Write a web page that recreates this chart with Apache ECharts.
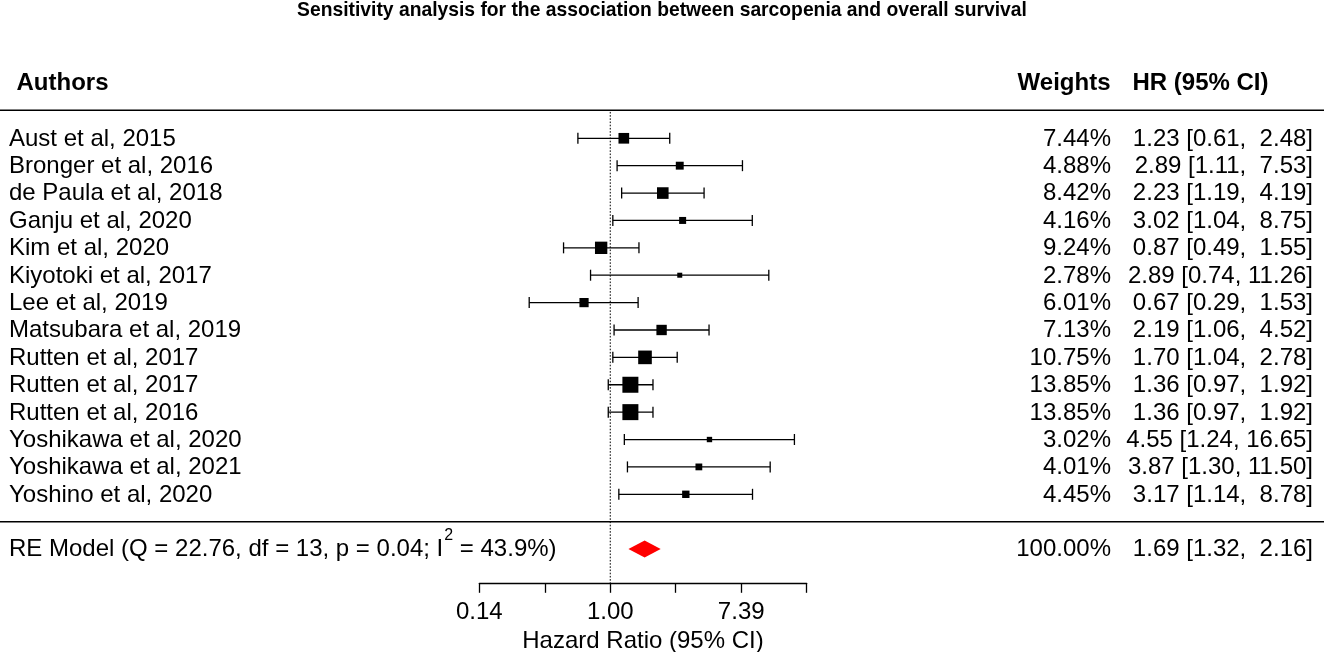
<!DOCTYPE html>
<html><head><meta charset="utf-8">
<script src="https://cdn.jsdelivr.net/npm/echarts@6/dist/echarts.min.js"></script>
<style>html,body{margin:0;padding:0;background:#fff}#c{width:1324px;height:652px}</style>
</head><body><div id="c"></div>
<script>
// ---- data ----
const titleText = 'Sensitivity analysis for the association between sarcopenia and overall survival';
const authors = ['Aust et al, 2015','Bronger et al, 2016','de Paula et al, 2018','Ganju et al, 2020','Kim et al, 2020','Kiyotoki et al, 2017','Lee et al, 2019','Matsubara et al, 2019','Rutten et al, 2017','Rutten et al, 2017','Rutten et al, 2016','Yoshikawa et al, 2020','Yoshikawa et al, 2021','Yoshino et al, 2020'];
const hr     = [1.23, 2.89, 2.23, 3.02, 0.87, 2.89, 0.67, 2.19, 1.70, 1.36, 1.36, 4.55, 3.87, 3.17];
const lower  = [0.61, 1.11, 1.19, 1.04, 0.49, 0.74, 0.29, 1.06, 1.04, 0.97, 0.97, 1.24, 1.30, 1.14];
const upper  = [2.48, 7.53, 4.19, 8.75, 1.55, 11.26, 1.53, 4.52, 2.78, 1.92, 1.92, 16.65, 11.50, 8.78];
const weights = [7.44, 4.88, 8.42, 4.16, 9.24, 2.78, 6.01, 7.13, 10.75, 13.85, 13.85, 3.02, 4.01, 4.45];
const pooled = [1.69, 1.32, 2.16];      // HR, lower, upper
const pooledWeight = 100.00;
const modelStats = {Q: '22.76', df: '13', p: '0.04', I2: '43.9'};
const headers = ['Authors', 'Weights', 'HR (95% CI)'];
const axisTitle = 'Hazard Ratio (95% CI)';
const tickLabels = {'-2': '0.14', '0': '1.00', '2': '7.39'};   // log-scale tick labels

// ---- helpers ----
const FONT = "'Liberation Sans', Arial, sans-serif";
const f2 = v => v.toFixed(2);
const pad = (s, n) => (' '.repeat(Math.max(0, n - s.length))) + s;
const ciText = (e, l, u) => f2(e) + ' [' + f2(l) + ', ' + pad(f2(u), 5) + ']';
const sqMin = Math.sqrt(Math.min(...weights)), sqMax = Math.sqrt(Math.max(...weights));
const sizeFor = w => 5 + (Math.sqrt(w) - sqMin) / (sqMax - sqMin) * 11;

const nStudies = authors.length;
const sepRow = nStudies + 1;        // separator line
const poolRow = nStudies + 2;       // RE model row
const yMax = 17.25;

const studyData = authors.map((a, i) => [i + 1, Math.log(hr[i]), Math.log(lower[i]), Math.log(upper[i]), weights[i]]);
const poolData = [[poolRow, Math.log(pooled[0]), Math.log(pooled[1]), Math.log(pooled[2]), pooledWeight]];

const txt = (text, x, y, align, extra) => ({
  type: 'text',
  style: Object.assign({text, x, y, align, verticalAlign: 'middle', fill: '#000', fontSize: 24, fontFamily: FONT}, extra || {})
});

const chart = echarts.init(document.getElementById('c'), null, {renderer: 'canvas'});
chart.setOption({
  backgroundColor: '#fff',
  animation: false,
  title: {
    text: titleText, left: 'center', top: 1, padding: 0,
    textStyle: {fontSize: 19.3, fontWeight: 'bold', color: '#000', fontFamily: FONT}
  },
  grid: {left: 479.3, right: 517.3, top: 110.9, bottom: 68.7, containLabel: false, outerBoundsMode: 'none'},
  xAxis: {
    type: 'value', min: -2, max: 3, interval: 1,
    axisLine: {show: true, onZero: false, lineStyle: {color: '#000', width: 1.3}},
    axisTick: {show: true, length: 9.5, lineStyle: {color: '#000', width: 1.3}},
    splitLine: {show: false},
    axisLabel: {
      color: '#000', fontSize: 24, fontFamily: FONT, margin: 17,
      formatter: v => tickLabels[String(Math.round(v))] || ''
    },
    name: axisTitle, nameLocation: 'middle', nameGap: 45,
    nameTextStyle: {color: '#000', fontSize: 24, fontFamily: FONT}
  },
  yAxis: {type: 'value', min: 0, max: yMax, inverse: true, show: false},
  graphic: [
    {type: 'text', style: {text: headers[0], x: 16.5, y: 83, align: 'left', verticalAlign: 'middle', fill: '#000', fontSize: 24, fontWeight: 'bold', fontFamily: FONT}},
    {type: 'text', style: {text: headers[1], x: 1110.5, y: 83, align: 'right', verticalAlign: 'middle', fill: '#000', fontSize: 24, fontWeight: 'bold', fontFamily: FONT}},
    {type: 'text', style: {text: headers[2], x: 1268.5, y: 83, align: 'right', verticalAlign: 'middle', fill: '#000', fontSize: 24, fontWeight: 'bold', fontFamily: FONT}}
  ],
  series: [
    {
      type: 'custom', z: 1, clip: false, silent: true,
      data: [[0, 0]],
      renderItem: (params, api) => {
        const W = api.getWidth();
        const top = api.coord([0, 0]);
        const sep = api.coord([0, sepRow]);
        const bot = api.coord([0, yMax]);
        return {type: 'group', children: [
          {type: 'line', shape: {x1: 0, y1: top[1] - 0.6, x2: W, y2: top[1] - 0.6}, style: {stroke: '#000', lineWidth: 1.4}},
          {type: 'line', shape: {x1: 0, y1: sep[1], x2: W, y2: sep[1]}, style: {stroke: '#000', lineWidth: 1.4}},
          {type: 'line', shape: {x1: top[0], y1: top[1] + 1, x2: top[0], y2: bot[1]}, style: {stroke: '#000', lineWidth: 1, lineDash: [1.6, 1.6]}}
        ]};
      }
    },
    {
      type: 'custom', z: 2, clip: false, silent: true,
      data: studyData,
      renderItem: (params, api) => {
        const i = params.dataIndex;
        const k = api.value(0);
        const pE = api.coord([api.value(1), k]);
        const pL = api.coord([api.value(2), k]);
        const pH = api.coord([api.value(3), k]);
        const y = pE[1];
        const s = sizeFor(api.value(4));
        const ls = {stroke: '#000', lineWidth: 1.3};
        return {type: 'group', children: [
          {type: 'line', shape: {x1: pL[0], y1: y, x2: pH[0], y2: y}, style: ls},
          {type: 'line', shape: {x1: pL[0], y1: y - 5.5, x2: pL[0], y2: y + 5.5}, style: ls},
          {type: 'line', shape: {x1: pH[0], y1: y - 5.5, x2: pH[0], y2: y + 5.5}, style: ls},
          {type: 'rect', shape: {x: pE[0] - s / 2, y: y - s / 2, width: s, height: s}, style: {fill: '#000'}},
          txt(authors[i], 9, y + 0.8, 'left'),
          txt(f2(weights[i]) + '%', 1111, y + 0.8, 'right'),
          txt(ciText(hr[i], lower[i], upper[i]), 1313, y + 0.8, 'right')
        ]};
      }
    },
    {
      type: 'custom', z: 3, clip: false, silent: true,
      data: poolData,
      renderItem: (params, api) => {
        const k = api.value(0);
        const pE = api.coord([api.value(1), k]);
        const pL = api.coord([api.value(2), k]);
        const pH = api.coord([api.value(3), k]);
        const y = pE[1];
        const h = 8.5;
        return {type: 'group', children: [
          {type: 'polygon', shape: {points: [[pL[0], y], [pE[0], y - h], [pH[0], y], [pE[0], y + h]]}, style: {fill: '#ff0000'}},
          {type: 'text', style: {
            text: 'RE Model (Q = ' + modelStats.Q + ', df = ' + modelStats.df + ', p = ' + modelStats.p + '; I{sup|2} = ' + modelStats.I2 + '%)',
            x: 9, y: y + 0.8, align: 'left', verticalAlign: 'middle', fill: '#000', fontSize: 24, fontFamily: FONT, lineHeight: 44,
            rich: {sup: {fontSize: 16, lineHeight: 17, verticalAlign: 'top', fill: '#000', fontFamily: FONT, padding: [0, 0, 0, 1]}}
          }},
          txt(f2(pooledWeight) + '%', 1111, y + 0.8, 'right'),
          txt(ciText(pooled[0], pooled[1], pooled[2]), 1313, y + 0.8, 'right')
        ]};
      }
    }
  ]
});
</script>
</body></html>
